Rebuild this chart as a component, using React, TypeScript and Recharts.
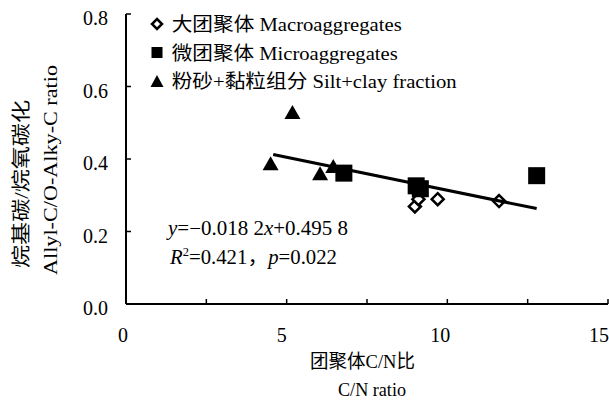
import { ScatterChart, Scatter, XAxis, YAxis, Legend } from 'recharts';

const SERIF = "'Liberation Serif', 'Noto Sans CJK SC', serif";

// 大团聚体
const macroX = [8.99, 9.1, 9.7, 11.61];
const macroY = [0.269, 0.289, 0.289, 0.284];
// 微团聚体
const microX = [6.78, 9.03, 9.16, 12.78];
const microY = [0.361, 0.326, 0.318, 0.354];
// 粉砂+黏粒组分
const siltX = [4.5, 5.18, 6.04, 6.45];
const siltY = [0.388, 0.53, 0.361, 0.381];

const SLOPE = -0.0182;
const INTERCEPT = 0.4958;

const xTicks = [0, 2.5, 5, 7.5, 10, 12.5, 15];
const yTicks = [0, 0.2, 0.4, 0.6, 0.8];

const legendLabels = ['大团聚体 Macroaggregates', '微团聚体 Microaggregates', '粉砂+黏粒组分 Silt+clay fraction'];
const legendWidths = [230, 226, 285];

const toPoints = (xs: number[], ys: number[]) => xs.map((x, i) => ({ x, y: ys[i] }));
const macro = toPoints(macroX, macroY);
const micro = toPoints(microX, microY);
const silt = toPoints(siltX, siltY);

// fitted line over the range of the samples, from the printed equation
const fitRange = [4.58, 12.78];
const fit = fitRange.map((x) => ({ x, y: INTERCEPT + SLOPE * x }));

function Diamond({ cx, cy, r = 6 }: any) {
  return (
    <path
      d={`M${cx},${cy - r}L${cx + r},${cy}L${cx},${cy + r}L${cx - r},${cy}Z`}
      fill="#fff"
      stroke="#000"
      strokeWidth={2.5}
    />
  );
}

function Square({ cx, cy, s = 17 }: any) {
  return <rect x={cx - s / 2} y={cy - s / 2} width={s} height={s} fill="#000" />;
}

function Triangle({ cx, cy, w = 16, h = 14 }: any) {
  return <path d={`M${cx},${cy - h / 2}L${cx + w / 2},${cy + h / 2}L${cx - w / 2},${cy + h / 2}Z`} fill="#000" />;
}

function XTick({ x, y, payload }: any) {
  const v = payload.value;
  return (
    <g>
      <line x1={x} x2={x} y1={y} y2={y - 5} stroke="#000" strokeWidth={1.5} />
      {v % 5 === 0 && (
        <text x={x - 3 - v * 0.4} y={y + 38} textAnchor="middle" fontFamily={SERIF} fontSize={20} fill="#000">
          {v}
        </text>
      )}
    </g>
  );
}

function YTick({ x, y, payload }: any) {
  return (
    <g>
      <line x1={x} x2={x + 5} y1={y} y2={y} stroke="#000" strokeWidth={1.5} />
      <text x={108} y={y + 11} textAnchor="end" fontFamily={SERIF} fontSize={20} fill="#000">
        {payload.value.toFixed(1)}
      </text>
    </g>
  );
}

function LegendBox() {
  const markers = [
    <Diamond cx={9} cy={14} r={5} />,
    <Square cx={9} cy={42.5} s={11} />,
    <Triangle cx={9} cy={71} w={13} h={12} />,
  ];
  return (
    <svg width={320} height={86} style={{ display: 'block' }}>
      {legendLabels.map((label, i) => (
        <g key={label}>
          {markers[i]}
          <text
            x={23.7}
            y={14 + 28.5 * i + 7}
            fontFamily={SERIF}
            fontSize={19}
            textLength={legendWidths[i]}
            lengthAdjust="spacingAndGlyphs"
            fill="#000"
          >
            {label}
          </text>
        </g>
      ))}
    </svg>
  );
}

export default function App() {
  return (
    <div style={{ position: 'absolute', left: 0, top: 0, width: 609, height: 401, background: '#fff' }}>
      <ScatterChart width={609} height={401} margin={{ top: 14, right: 1, bottom: 0, left: 0 }}>
        <XAxis
          type="number"
          dataKey="x"
          domain={[0, 15]}
          ticks={xTicks}
          interval={0}
          height={97}
          tickSize={0}
          tickMargin={0}
          tickLine={false}
          axisLine={{ stroke: '#000', strokeWidth: 2 }}
          tick={<XTick />}
        />
        <YAxis
          type="number"
          dataKey="y"
          domain={[0, 0.8]}
          ticks={yTicks}
          interval={0}
          width={126}
          tickSize={0}
          tickMargin={0}
          tickLine={false}
          axisLine={{ stroke: '#000', strokeWidth: 2 }}
          tick={<YTick />}
        />
        <Legend
          layout="vertical"
          align="center"
          verticalAlign="middle"
          wrapperStyle={{ left: 148, top: 10, width: 320 }}
          content={() => <LegendBox />}
        />
        <Scatter name="大团聚体" data={macro} shape={(p: any) => <Diamond cx={p.cx} cy={p.cy} />} isAnimationActive={false} />
        <Scatter
          name="fit"
          data={fit}
          line={{ stroke: '#000', strokeWidth: 3 }}
          shape={() => <g />}
          legendType="none"
          isAnimationActive={false}
        />
        <Scatter name="微团聚体" data={micro} shape={(p: any) => <Square cx={p.cx} cy={p.cy} />} isAnimationActive={false} />
        <Scatter name="粉砂+黏粒组分" data={silt} shape={(p: any) => <Triangle cx={p.cx} cy={p.cy} />} isAnimationActive={false} />
      </ScatterChart>
      <svg
        width={609}
        height={401}
        style={{ position: 'absolute', left: 0, top: 0, pointerEvents: 'none' }}
        fontFamily={SERIF}
        fill="#000"
      >
        <text x={168} y={235} fontSize={20} textLength={180} lengthAdjust="spacingAndGlyphs">
          <tspan fontStyle="italic">y</tspan>=−0.018 2<tspan fontStyle="italic">x</tspan>+0.495 8
        </text>
        <text x={170} y={264} fontSize={20} textLength={167} lengthAdjust="spacingAndGlyphs">
          <tspan fontStyle="italic">R</tspan>
          <tspan fontSize={12} dy={-8}>2</tspan>
          <tspan dy={8}>=0.421，</tspan>
          <tspan fontStyle="italic">p</tspan>=0.022
        </text>
        <text x={362.5} y={368} fontSize={19} textAnchor="middle" textLength={105} lengthAdjust="spacingAndGlyphs">
          团聚体C/N比
        </text>
        <text x={372} y={396} fontSize={19} textAnchor="middle" textLength={68} lengthAdjust="spacingAndGlyphs">
          C/N ratio
        </text>
        <text
          transform="translate(28,184) rotate(-90)"
          fontSize={19}
          textAnchor="middle"
          textLength={168}
          lengthAdjust="spacingAndGlyphs"
        >
          烷基碳/烷氧碳化
        </text>
        <text
          transform="translate(57,170) rotate(-90)"
          fontSize={19}
          textAnchor="middle"
          textLength={210}
          lengthAdjust="spacingAndGlyphs"
        >
          Allyl-C/O-Alky-C ratio
        </text>
      </svg>
    </div>
  );
}
